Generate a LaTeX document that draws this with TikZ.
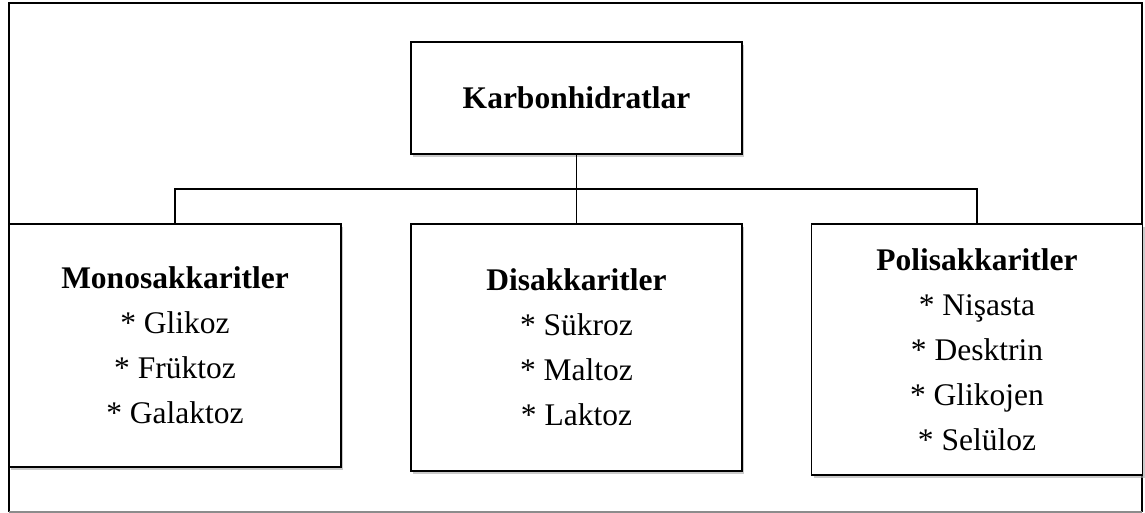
\documentclass[tikz,border=0pt]{standalone}
\usepackage{fontspec}
\setmainfont{Liberation Serif}
\usetikzlibrary{shadows}

\tikzset{
  box/.style={draw, line width=1.6pt, fill=white, align=center,
              font=\fontsize{31.5}{45}\selectfont,
              drop shadow={shadow xshift=2pt, shadow yshift=-3pt, fill=black!35, opacity=0.6}},
  link/.style={line width=1.2pt}
}

\begin{document}
\begin{tikzpicture}[x=1pt,y=-1pt]
\useasboundingbox (0,0) rectangle (1145,513);
% outer frame
\draw[line width=1.5pt] (9,512) -- (9,3) -- (1142,3) -- (1142,512);
\draw[line width=1.5pt, black!45] (9,512) -- (1142,512);

\node[box, minimum width=331, minimum height=112] (karb) at (576.5,98) {\textbf{Karbonhidratlar}};

\node[box, minimum width=332, minimum height=243] (mono) at (175,345.5)
  {\textbf{Monosakkaritler}\\ * Glikoz\\ * Früktoz\\ * Galaktoz};
\node[box, minimum width=331, minimum height=247] (di) at (576.5,347.5)
  {\textbf{Disakkaritler}\\ * Sükroz\\ * Maltoz\\ * Laktoz};
\node[box, minimum width=331, minimum height=251] (poli) at (977,349.5)
  {\textbf{Polisakkaritler}\\ * Nişasta\\ * Desktrin\\ * Glikojen\\ * Selüloz};

\coordinate (bus) at (576.5,189);
\draw[link] (karb.south) -- (di.north);
\draw[link] (mono.north) |- (bus) -| (poli.north);
\end{tikzpicture}
\end{document}
